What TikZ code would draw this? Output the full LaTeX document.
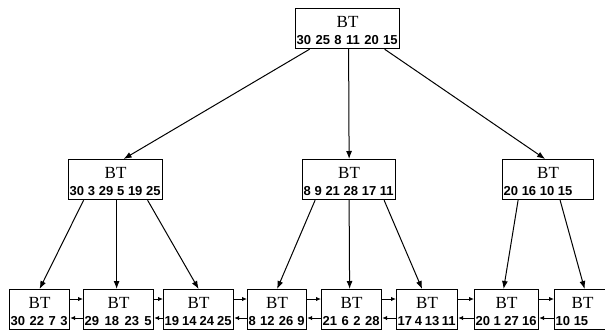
\documentclass[tikz,border=0pt]{standalone}
\usepackage{fontspec}
\setmainfont{Liberation Serif}
\newfontfamily\numfont{Liberation Sans}
\usepackage{tikz}
\usetikzlibrary{arrows.meta}

\tikzset{
  btbox/.style={draw, line width=1.2pt, inner sep=0pt, minimum height=40pt, anchor=north west},
  bttitle/.style={font=\fontsize{17}{17}\selectfont, inner sep=0pt, anchor=base},
  btnums/.style={font=\numfont\bfseries\fontsize{13}{13}\selectfont, inner sep=0pt, anchor=base west},
  tree/.style={-{Latex[length=8pt,width=6pt]}, line width=1pt},
  link/.style={-{Latex[length=5pt,width=4.5pt]}, line width=1pt},
}

\begin{document}
\begin{tikzpicture}[x=1pt,y=-1pt]
        \useasboundingbox (0,0) rectangle (605,330);
        \foreach \n/\x/\y/\w/\f/\nums in {root/295/8/104/0/{30 25 8 11 20 15},
            a/68/159/94/0/{30 3 29 5 19 25}, b/302/159/93/0/{8 9 21 28 17 11},
            c/502/159/91/1/{20 16 10 15},
            leaf1/9/289/60/0/{30 22 7 3}, leaf2/83/289/70/0/{29 18 23 5},
            leaf3/163/289/70/0/{19 14 24 25}, leaf4/247/289/59/0/{8 12 26 9},
            leaf5/321/289/60/0/{21 6 2 28}, leaf6/396/289/61/0/{17 4 13 11},
            leaf7/474/289/64/0/{20 1 27 16}, leaf8/554/289/56/1/{10 15}} {
          \pgfmathsetmacro\tw{\w-3}
          \node[btbox, minimum width=\w pt] (\n) at (\x,\y) {};
          \node[bttitle] (\n-t) at ([yshift=-19pt]\n.north) {BT};
          \node[btnums] (\n-n) at ([xshift=1.5pt,yshift=4.5pt]\n.south west)
            {\ifnum\f=0 \spaceskip=0pt plus 1fil\relax\fi
             \hbox to \tw pt{\nums\ifnum\f=1 \hfil\fi}};
        }
        \draw[tree] ([xshift=-38pt]root.south) -- ([xshift=8pt]a.north);
        \draw[tree] ([xshift=1pt]root.south) -- (b.north);
        \draw[tree] ([xshift=37pt]root.south) -- ([xshift=-3pt]c.north);
        \draw[tree] ([xshift=-32pt]a.south) -- (leaf1.north);
        \draw[tree] ([xshift=1pt]a.south) -- ([xshift=-2pt]leaf2.north);
        \draw[tree] ([xshift=32pt]a.south) -- (leaf3.north);
        \draw[tree] ([xshift=-34pt]b.south) -- (leaf4.north);
        \draw[tree] (b.south) -- ([xshift=-2pt]leaf5.north);
        \draw[tree] ([xshift=35pt]b.south) -- ([xshift=-5pt]leaf6.north);
        \draw[tree] ([xshift=-30pt]c.south) -- ([xshift=-3pt]leaf7.north);
        \draw[tree] ([xshift=12pt]c.south) -- ([xshift=2pt]leaf8.north);
        \foreach \i/\j in {1/2, 2/3, 3/4, 4/5, 5/6, 6/7, 7/8} {
          \draw[link] ([yshift=-10pt]leaf\i.north east) -- ([yshift=-10pt]leaf\j.north west);
          \draw[link] ([yshift=-29pt]leaf\j.north west) -- ([yshift=-29pt]leaf\i.north east);
        }
      \end{tikzpicture}
\end{document}
